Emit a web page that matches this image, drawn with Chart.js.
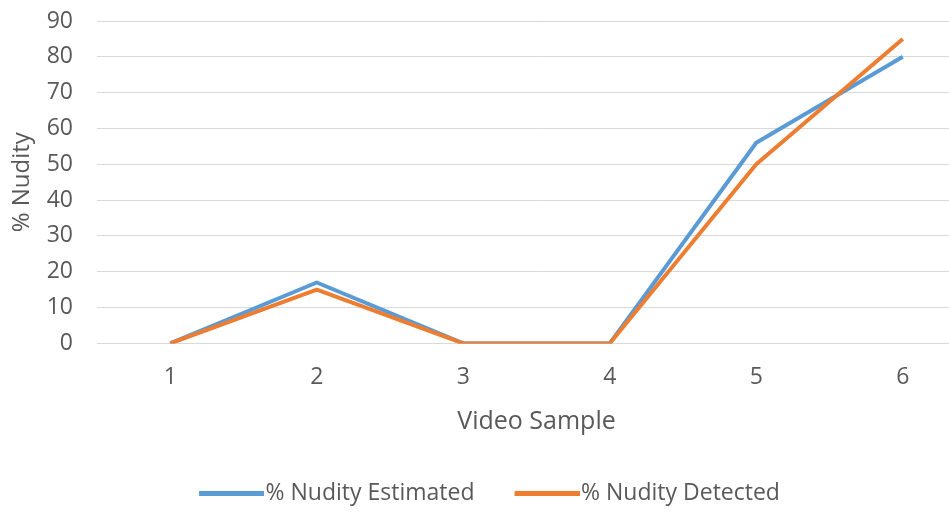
<!DOCTYPE html>
<html>
<head>
<meta charset="utf-8">
<script src="https://cdn.jsdelivr.net/npm/chart.js@4/dist/chart.umd.min.js"></script>
<style>
  html, body { margin: 0; padding: 0; background: #ffffff; overflow: hidden; }
  #wrap { position: relative; width: 992px; height: 515px; margin-left: -12px; }
</style>
</head>
<body>
<div id="wrap"><canvas id="chart"></canvas></div>
<script>
// Video samples on the horizontal axis
const samples = ['1', '2', '3', '4', '5', '6'];
// Percentage of nudity per sample
const nudityEstimated = [0, 17, 0, 0, 56, 80];
const nudityDetected = [0, 15, 0, 0, 50, 85];

const seriesColors = ['#5B9BD5', '#ED7D31'];
const textColor = '#595959';
const fontFamily = '"Open Sans", "Liberation Sans", sans-serif';

// Legend key: a short solid stroke with clear space on its left
function legendStroke(color) {
  const c = document.createElement('canvas');
  c.width = 90;
  c.height = 5;
  const g = c.getContext('2d');
  g.fillStyle = color;
  g.fillRect(25, 0, 65, c.height);
  return c;
}
const legendKeys = seriesColors.map(legendStroke);

new Chart(document.getElementById('chart'), {
  type: 'line',
  data: {
    labels: samples,
    datasets: [
      {
        label: '% Nudity Estimated',
        data: nudityEstimated,
        borderColor: seriesColors[0],
        backgroundColor: seriesColors[0],
        borderWidth: 4,
        pointRadius: 0,
        tension: 0,
        borderJoinStyle: 'round',
        order: 1
      },
      {
        label: '% Nudity Detected',
        data: nudityDetected,
        borderColor: seriesColors[1],
        backgroundColor: seriesColors[1],
        borderWidth: 4,
        pointRadius: 0,
        tension: 0,
        borderJoinStyle: 'round',
        order: 0
      }
    ]
  },
  options: {
    responsive: true,
    maintainAspectRatio: false,
    animation: false,
    layout: { padding: { top: 21, right: 4, bottom: 0, left: 0 } },
    plugins: {
      tooltip: { enabled: false },
      legend: {
        position: 'bottom',
        labels: {
          usePointStyle: true,
          pointStyleWidth: 70,
          color: textColor,
          font: { family: fontFamily, size: 23 },
          padding: 25,
          sort: (a, b) => a.datasetIndex - b.datasetIndex,
          generateLabels(chart) {
            const items = Chart.defaults.plugins.legend.labels.generateLabels(chart);
            items.forEach(it => { it.pointStyle = legendKeys[it.datasetIndex]; });
            return items;
          }
        }
      }
    },
    scales: {
      x: {
        offset: true,
        grid: { display: false },
        border: { display: false },
        ticks: { color: textColor, font: { family: fontFamily, size: 23 }, padding: 12 },
        title: {
          display: true,
          text: 'Video Sample',
          color: textColor,
          font: { family: fontFamily, size: 25 },
          padding: { top: 4, bottom: 20 }
        }
      },
      y: {
        min: 0,
        max: 90,
        ticks: { stepSize: 10, color: textColor, font: { family: fontFamily, size: 23 }, padding: 24 },
        grid: { color: '#d9d9d9', lineWidth: 1, drawTicks: false },
        border: { display: false },
        title: {
          display: true,
          text: '% Nudity',
          color: textColor,
          font: { family: fontFamily, size: 24 },
          padding: { top: 20, bottom: 0 }
        },
        afterFit(scale) {
          scale.width = 109;
          scale.paddingTop = 0;
          scale.paddingBottom = 0;
        }
      }
    }
  }
});
</script>
</body>
</html>
